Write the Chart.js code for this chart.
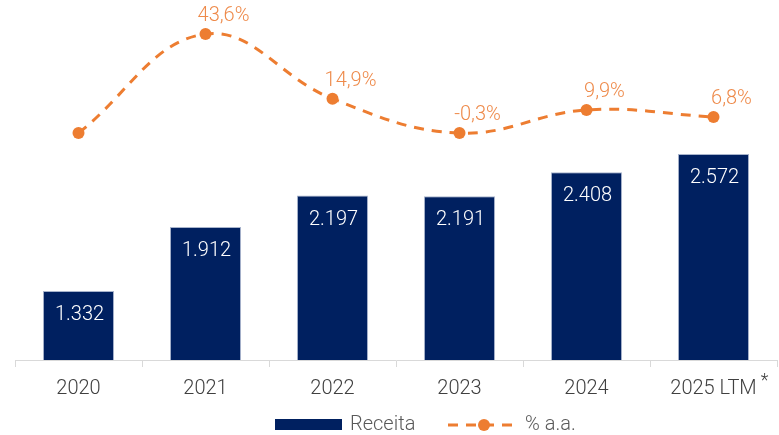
<!DOCTYPE html>
<html>
<head>
<meta charset="utf-8">
<script src="https://cdn.jsdelivr.net/npm/chart.js@4"></script>
<style>
  body { margin: 0; background: #fff; }
  #wrap { width: 779px; height: 435px; position: relative; }
</style>
</head>
<body>
<div id="wrap"><canvas id="receitaChart"></canvas></div>
<script>
const categories = ['2020', '2021', '2022', '2023', '2024', '2025 LTM'];
const receita = [1332, 1912, 2197, 2191, 2408, 2572];
const crescimento = [-0.3, 43.6, 14.9, -0.3, 9.9, 6.8];
const showGrowthLabel = [false, true, true, true, true, true];

const NAVY = '#002060';
const ORANGE = '#ED7D31';
const FONT = 'Roboto, "Liberation Sans", sans-serif';

function fmtReceita(v) {
  return String(v).replace(/\B(?=(\d{3})+(?!\d))/g, '.');
}
function fmtPct(v) {
  return v.toFixed(1).replace('.', ',') + '%';
}

// value labels on bars and line points, plus the asterisk and the legend
const labelsPlugin = {
  id: 'labels',
  afterDatasetsDraw(chart) {
    const ctx = chart.ctx;
    ctx.save();
    ctx.font = '300 20px ' + FONT;
    ctx.textAlign = 'center';
    ctx.textBaseline = 'middle';

    const barMeta = chart.getDatasetMeta(1);
    ctx.fillStyle = '#ffffff';
    barMeta.data.forEach((bar, i) => {
      ctx.fillText(fmtReceita(receita[i]), bar.x + 1, bar.y + 24);
    });

    const lineMeta = chart.getDatasetMeta(0);
    ctx.fillStyle = '#EE8A4A';
    lineMeta.data.forEach((pt, i) => {
      if (!showGrowthLabel[i]) return;
      ctx.fillText(fmtPct(crescimento[i]), pt.x + 18, pt.y - 18);
    });
    ctx.restore();
  },
  afterDraw(chart) {
    const ctx = chart.ctx;
    const xs = chart.scales.x;
    ctx.save();

    // asterisk after the last category
    ctx.font = '300 20px ' + FONT;
    const last = categories.length - 1;
    const lx = xs.getPixelForValue(last) + ctx.measureText(categories[last]).width / 2 + 4;
    ctx.fillStyle = '#404040';
    ctx.textAlign = 'left';
    ctx.textBaseline = 'middle';
    ctx.font = '300 18px ' + FONT;
    ctx.fillText('*', lx, 381);

    // legend
    const ly = 425;
    ctx.font = '300 20px ' + FONT;
    ctx.fillStyle = NAVY;
    ctx.fillRect(275, ly - 6, 67, 11);
    ctx.fillStyle = '#595959';
    ctx.fillText(chart.data.datasets[1].label, 350, ly);

    ctx.strokeStyle = ORANGE;
    ctx.lineWidth = 3;
    ctx.setLineDash([10, 8]);
    ctx.beginPath();
    ctx.moveTo(448, ly);
    ctx.lineTo(516, ly);
    ctx.stroke();
    ctx.setLineDash([]);
    ctx.fillStyle = ORANGE;
    ctx.beginPath();
    ctx.arc(484, ly, 6, 0, Math.PI * 2);
    ctx.fill();
    ctx.fillStyle = '#595959';
    ctx.fillText(chart.data.datasets[0].label, 525, ly);
    ctx.restore();
  }
};

new Chart(document.getElementById('receitaChart'), {
  type: 'bar',
  data: {
    labels: categories,
    datasets: [
      {
        type: 'line',
        label: '% a.a.',
        data: crescimento,
        yAxisID: 'y1',
        borderColor: ORANGE,
        backgroundColor: ORANGE,
        borderWidth: 3,
        borderDash: [10, 8],
        tension: 0.4,
        pointRadius: 6,
        pointHoverRadius: 6,
        pointBackgroundColor: ORANGE,
        pointBorderWidth: 0,
        order: 0
      },
      {
        label: 'Receita',
        data: receita,
        yAxisID: 'y',
        backgroundColor: NAVY,
        borderColor: 'rgba(110,130,170,0.6)',
        borderWidth: 1,
        categoryPercentage: 1,
        barPercentage: 0.56,
        order: 1
      }
    ]
  },
  options: {
    responsive: true,
    maintainAspectRatio: false,
    animation: false,
    layout: { autoPadding: false, padding: { left: 15, right: 2, top: 0, bottom: 35 } },
    plugins: {
      legend: { display: false },
      tooltip: { enabled: false }
    },
    scales: {
      x: {
        offset: true,
        grid: {
          display: true,
          offset: true,
          drawOnChartArea: false,
          drawTicks: true,
          tickLength: 7,
          color: '#d9d9d9'
        },
        border: { display: true, color: '#d9d9d9', width: 1 },
        ticks: {
          color: '#404040',
          font: { family: FONT, size: 20, weight: 300 },
          padding: 10,
          maxRotation: 0,
          autoSkip: false
        },
        afterFit(scale) { scale.height = 40; }
      },
      y: { display: false, min: 707, max: 3968 },
      y1: { display: false, min: -101, max: 58.7 }
    }
  },
  plugins: [labelsPlugin]
});
</script>
</body>
</html>
